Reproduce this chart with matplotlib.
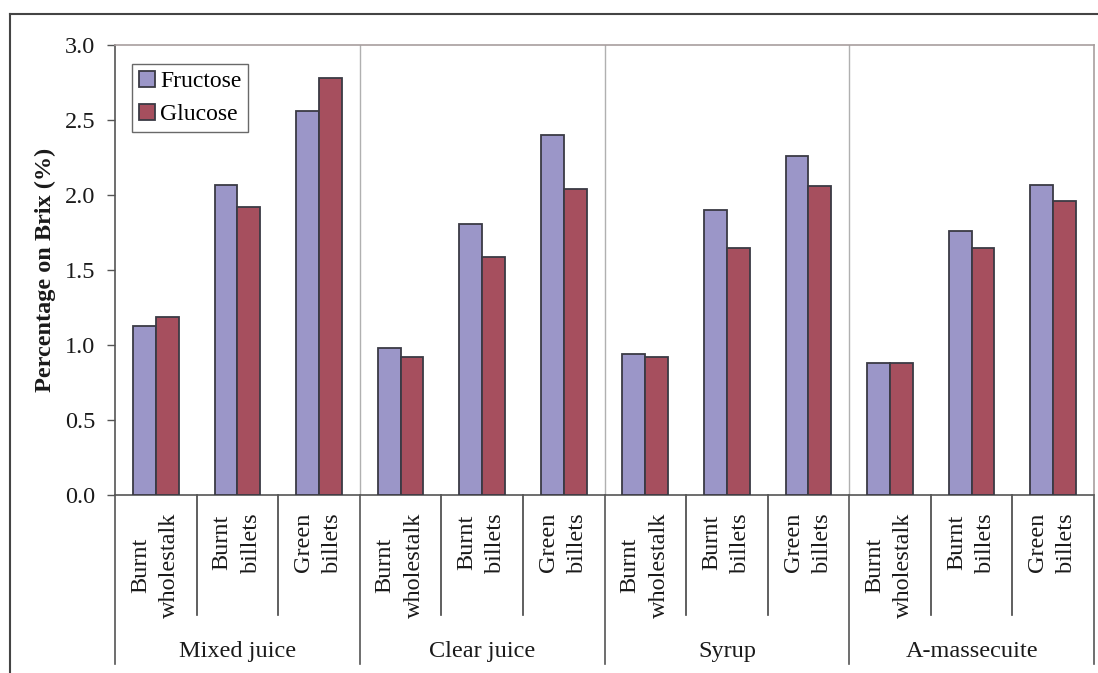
import matplotlib.pyplot as plt
import numpy as np
from matplotlib.lines import Line2D

plt.rcParams['font.family'] = ['Liberation Serif', 'DejaVu Serif']

# sugar contents, % on Brix
stages = ['Mixed juice', 'Clear juice', 'Syrup', 'A-massecuite']
cane = ['Burnt\nwholestalk', 'Burnt\nbillets', 'Green\nbillets']
fructose = [1.13, 2.07, 2.56, 0.98, 1.81, 2.40, 0.94, 1.90, 2.26, 0.88, 1.76, 2.07]
glucose = [1.19, 1.92, 2.78, 0.92, 1.59, 2.04, 0.92, 1.65, 2.06, 0.88, 1.65, 1.96]

n = len(fructose)
x = np.arange(n) + 0.5
w = 0.28

fig = plt.figure(figsize=(10.98, 6.73), dpi=100)
ax = fig.add_axes([115/1098, 178/673, 979/1098, 450/673])

ax.bar(x - w/2, fructose, w, color='#9b96c8', edgecolor='#3a3a44', linewidth=1.3, label='Fructose', zorder=3)
ax.bar(x + w/2, glucose, w, color='#a64f5e', edgecolor='#3a3a44', linewidth=1.3, label='Glucose', zorder=3)

ax.set_xlim(0, n)
ax.set_ylim(0, 3.0)
ax.set_yticks(np.arange(0, 3.01, 0.5))
ax.set_yticklabels(['%.1f' % v for v in np.arange(0, 3.01, 0.5)])
ax.set_xticks([])
ax.tick_params(axis='y', direction='out', length=6, width=1, color='#555555',
               labelsize=17.5, pad=8, labelcolor='#1a1a1a')

for s in ['top', 'right']:
    ax.spines[s].set_color('#a89e9e')
    ax.spines[s].set_linewidth(1.2)
for s in ['left', 'bottom']:
    ax.spines[s].set_color('#555555')
    ax.spines[s].set_linewidth(1.2)

# stage dividers inside the plot
for k in range(1, len(stages)):
    ax.axvline(3*k, color='#b0b0b0', linewidth=1, zorder=1)

# category axis below the plot
for i in range(n + 1):
    if i % 3 == 0:
        ax.plot([i, i], [0, -0.3756], transform=ax.get_xaxis_transform(),
                color='#555555', linewidth=1.2, clip_on=False)
    else:
        ax.plot([i, i], [0, -0.2667], transform=ax.get_xaxis_transform(),
                color='#444444', linewidth=1.2, clip_on=False)

for i in range(n):
    ax.text(x[i] - 0.01, -0.04, cane[i % 3], transform=ax.get_xaxis_transform(),
            rotation=90, ha='center', va='top', multialignment='center',
            fontsize=17.5, linespacing=1.5, color='#1a1a1a')

for k, name in enumerate(stages):
    ax.text(3*k + 1.5, -0.348, name, transform=ax.get_xaxis_transform(),
            ha='center', va='center', fontsize=17.5, color='#1a1a1a')

ax.set_ylabel('Percentage on Brix (%)', fontsize=17.5, fontweight='bold', color='#1a1a1a')
ax.yaxis.set_label_coords(-0.06, 0.5)

leg = ax.legend(loc='upper left', bbox_to_anchor=(0.0174, 0.958), borderaxespad=0,
                fancybox=False, fontsize=17, handlelength=0.7, handleheight=0.68,
                handletextpad=0.22, borderpad=0.28, labelspacing=0.5)
leg.get_frame().set_edgecolor('#444444')
leg.get_frame().set_linewidth(1)

# outer frame
fig.add_artist(Line2D([10/1098, 10/1098], [0, 659/673], color='#444444', linewidth=1.5))
fig.add_artist(Line2D([10/1098, 1], [659/673, 659/673], color='#444444', linewidth=1.5))

fig.savefig('out.png', dpi=100)
